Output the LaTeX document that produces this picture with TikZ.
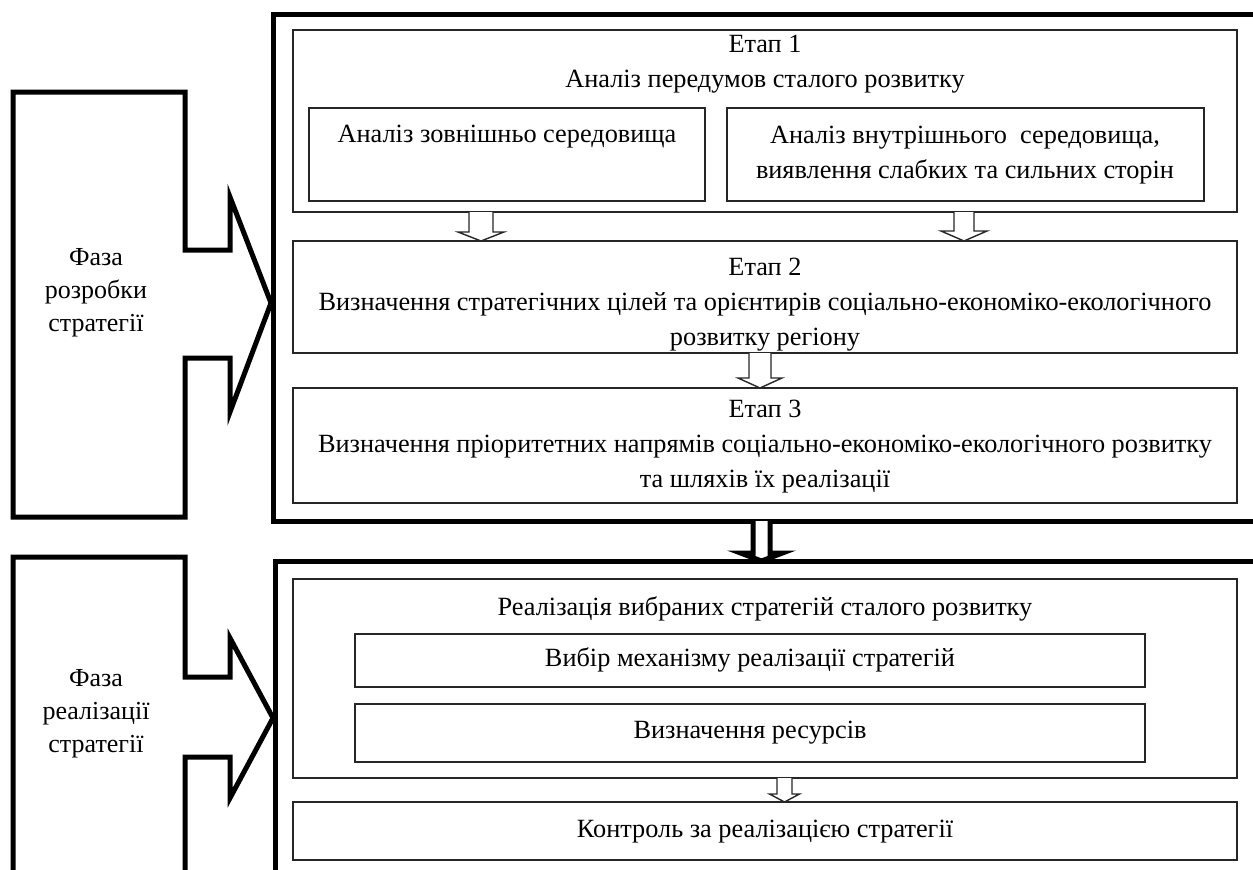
\documentclass[tikz,border=0pt]{standalone}
\usepackage{fontspec}
\setmainfont{Liberation Serif}
\usetikzlibrary{calc}
\tikzset{
 box/.style={draw=black!85, line width=1.4pt, anchor=north west, inner sep=0pt, outer sep=0pt},
 frame/.style={draw, line width=5pt, anchor=north west, inner sep=0pt, outer sep=0pt},
 txt/.style={align=center, font=\fontsize{26.3}{35}\selectfont, inner sep=0pt},
 ptxt/.style={align=center, font=\fontsize{26}{33}\selectfont, inner sep=0pt},
 phase/.style={draw, line width=5pt, line join=miter},
 sarrow/.style={draw=black!85, line width=1.4pt, fill=white, line join=miter},
 barrow/.style={draw, line width=5pt, fill=white, line join=miter},
}
% block arrow: #1 style, #2 x centre, #3 from anchor, #4 to anchor, #5 half shaft, #6 half wing, #7 head length
\newcommand{\blockarr}[7]{%
 \draw[#1] let \p1=(#3), \p2=(#4) in
  (#2-#5,\y1) -- (#2-#5,{\y2+#7pt}) -- (#2-#6,{\y2+#7pt}) -- (#2,\y2)
  -- (#2+#6,{\y2+#7pt}) -- (#2+#5,{\y2+#7pt}) -- (#2+#5,\y1);}
\begin{document}
\begin{tikzpicture}[x=1pt,y=-1pt]
\useasboundingbox (0,0) rectangle (1253,870);
\clip (0,0) rectangle (1253,870);
% outer frames
\node[frame, minimum width=1000pt, minimum height=507pt] (top) at (273,14) {};
\node[frame, minimum width=1000pt, minimum height=340pt] (bot) at (275,561) {};
% phase shapes
\draw[phase] (13,92) -- (185,92) -- (185,250) -- (230,250) -- (230,197) -- (271,303)
  -- (230,412) -- (230,358) -- (185,358) -- (185,517) -- (13,517) -- cycle;
\draw[phase] (13,557) -- (185,557) -- (185,677) -- (230,677) -- (230,638) -- (273,718)
  -- (230,798) -- (230,757) -- (185,757) -- (185,900) -- (13,900) -- cycle;
\node[ptxt] (p1) at (96,293) {Фаза\\розробки\\стратегії};
\node[ptxt] (p2) at (96,714) {Фаза\\реалізації\\стратегії};
% boxes
\node[box, minimum width=944pt, minimum height=182pt] (e1) at (293,30) {};
\node[box, minimum width=396pt, minimum height=93pt] (s1) at (309,108) {};
\node[box, minimum width=477pt, minimum height=93pt] (s2) at (727,108) {};
\node[box, minimum width=944pt, minimum height=112pt] (e2) at (293,241) {};
\node[box, minimum width=944pt, minimum height=115pt] (e3) at (293,388) {};
\node[box, minimum width=944pt, minimum height=199pt] (r) at (293,579) {};
\node[box, minimum width=790pt, minimum height=53pt] (r1) at (355,634) {};
\node[box, minimum width=790pt, minimum height=58pt] (r2) at (355,704) {};
\node[box, minimum width=944pt, minimum height=58pt] (k) at (293,802) {};
% texts
\node[txt] (t1) at (765,64) {Етап 1\\Аналіз передумов сталого розвитку};
\node[txt] (ts1) at (507,137) {Аналіз зовнішньо середовища};
\node[txt] (ts2) at (965,155) {Аналіз внутрішнього \ середовища,\\виявлення слабких та сильних сторін};
\node[txt] (t2) at (765,305) {Етап 2\\Визначення стратегічних цілей та орієнтирів соціально-економіко-екологічного\\розвитку регіону};
\node[txt] (t3) at (765,447) {Етап 3\\Визначення пріоритетних напрямів соціально-економіко-екологічного розвитку\\та шляхів їх реалізації};
\node[txt] (tr) at (765,609) {Реалізація вибраних стратегій сталого розвитку};
\node[txt] (tr1) at (750,660) {Вибір механізму реалізації стратегій};
\node[txt] (tr2) at (750,733) {Визначення ресурсів};
\node[txt] (tk) at (765,832) {Контроль за реалізацією стратегії};
% arrows
\blockarr{sarrow}{481}{e1.south}{e2.north}{12}{23}{9}
\blockarr{sarrow}{964}{e1.south}{e2.north}{10}{23}{10}
\blockarr{sarrow}{760}{e2.south}{e3.north}{11}{22}{10}
\blockarr{sarrow}{784.5}{r.south}{k.north}{7.5}{15}{8}
\blockarr{barrow}{761.5}{top.south}{bot.north}{8.5}{21}{8}
\end{tikzpicture}
\end{document}
